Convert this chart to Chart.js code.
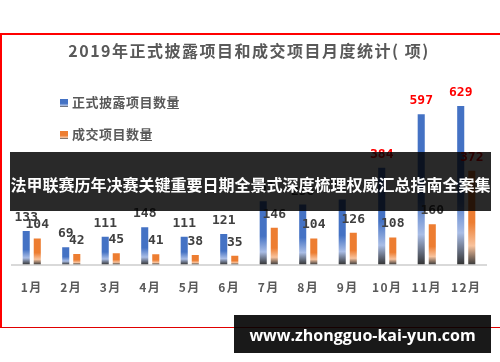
<!DOCTYPE html>
<html>
<head>
<meta charset="utf-8">
<script src="https://cdn.jsdelivr.net/npm/chart.js@4.4.1/dist/chart.umd.min.js"></script>
<style>
  body { margin: 0; background: #fff; overflow: hidden; }
  #wrap { position: relative; width: 500px; height: 362px; overflow: hidden; }
  #marco { position: absolute; left: 0; top: 33px; width: 540px; height: 292px;
           border-top: 2px solid #ff0000; border-left: 2px solid #ff0000; border-bottom: 1px solid #e00000; }
  #grafico { position: absolute; left: 0; top: 0; }
  #leyenda { position: absolute; left: 60px; top: 92px; font: bold 13px "Noto Sans CJK SC"; color: #595959; letter-spacing: 0.5px; }
  #leyenda div { height: 32px; line-height: 20px; white-space: nowrap; }
  #leyenda span { display: inline-block; width: 8px; height: 8px; margin-right: 4px; vertical-align: 0px; }
  #banda { position: absolute; left: 10px; top: 152px; width: 481px; height: 59px; background: rgba(0,0,0,0.84);
           color: #fff; font: bold 16px "Noto Sans CJK SC"; line-height: 65px; text-align: center; white-space: nowrap; }
  #marca { position: absolute; left: 234px; top: 315px; width: 257px; height: 38px; background: rgba(0,0,0,0.9);
           color: #fff; font: bold 16px "Open Sans"; line-height: 40px; text-align: center; white-space: nowrap; }
</style>
</head>
<body>
<div id="wrap">
  <div id="marco"></div>
  <canvas id="grafico" width="500" height="362"></canvas>
  <div id="leyenda"></div>
  <div id="banda">法甲联赛历年决赛关键重要日期全景式深度梳理权威汇总指南全案集</div>
  <div id="marca">www.zhongguo-kai-yun.com</div>
</div>
<script>
// Datos del gráfico
var meses = ["1月", "2月", "3月", "4月", "5月", "6月", "7月", "8月", "9月", "10月", "11月", "12月"];
var divulgados = [133, 69, 111, 148, 111, 121, 251, 238, 258, 384, 597, 629];
var cerrados = [104, 42, 45, 41, 38, 35, 146, 104, 126, 108, 160, 372];

// Degradado por barra (color arriba, claro, oscuro en la base)
function degradado(context, color, claro, oscuro) {
    var chart = context.chart;
    if (!chart.chartArea || context.type !== 'data') return color;
    var y = chart.scales.y;
    var arriba = y.getPixelForValue(context.raw);
    var base = y.getPixelForValue(0);
    if (!isFinite(arriba) || base - arriba < 1) return color;
    var g = chart.ctx.createLinearGradient(0, arriba, 0, base);
    g.addColorStop(0, color);
    g.addColorStop(0.55, color);
    g.addColorStop(0.8, claro);
    g.addColorStop(1, oscuro);
    return g;
}

// Etiquetas encima de las barras
var etiquetas = {
    id: 'etiquetas',
    afterDatasetsDraw: function (chart) {
        var ctx = chart.ctx;
        ctx.save();
        ctx.font = 'bold 13px "DejaVu Sans Mono"';
        ctx.textAlign = 'center';
        ctx.textBaseline = 'alphabetic';
        chart.data.datasets.forEach(function (ds, i) {
            chart.getDatasetMeta(i).data.forEach(function (barra, j) {
                var v = ds.data[j];
                ctx.fillStyle = v > 300 ? '#ff0000' : '#404040';
                ctx.fillText(v, barra.x, barra.y - 10);
            });
        });
        ctx.restore();
    }
};

// Espaciado de letras para título y ejes
var espaciado = {
    id: 'espaciado',
    beforeDraw: function (chart) { chart.ctx.letterSpacing = '1.5px'; },
    beforeDatasetsDraw: function (chart) { chart.ctx.letterSpacing = '0px'; }
};

// Leyenda HTML
var leyendaHtml = {
    id: 'leyendaHtml',
    afterUpdate: function (chart) {
        var caja = document.getElementById('leyenda');
        caja.innerHTML = '';
        chart.data.datasets.forEach(function (ds) {
            var fila = document.createElement('div');
            var cuadro = document.createElement('span');
            cuadro.style.background = 'linear-gradient(' + ds.colorLeyenda + ' 55%, ' + ds.claroLeyenda + ' 80%, #555)';
            fila.appendChild(cuadro);
            fila.appendChild(document.createTextNode(ds.label));
            caja.appendChild(fila);
        });
    }
};

var ctx = document.getElementById("grafico").getContext('2d');
var grafico = new Chart(ctx, {
    type: 'bar',
    data: {
        labels: meses,
        datasets: [{
            label: '正式披露项目数量',
            data: divulgados,
            colorLeyenda: '#4472c4',
            claroLeyenda: '#a9bde6',
            backgroundColor: function (c) { return degradado(c, '#4472c4', '#a9bde6', '#333333'); },
            barPercentage: 0.64,
            categoryPercentage: 0.56
        }, {
            label: '成交项目数量',
            data: cerrados,
            colorLeyenda: '#ed7d31',
            claroLeyenda: '#f8c29c',
            backgroundColor: function (c) { return degradado(c, '#ed7d31', '#f8c29c', '#3a3a3a'); },
            barPercentage: 0.64,
            categoryPercentage: 0.56
        }]
    },
    options: {
        responsive: false,
        animation: false,
        layout: { padding: { left: 12, right: 14, top: 0, bottom: 51 } },
        plugins: {
            legend: { display: false },
            tooltip: { enabled: false },
            title: {
                display: true,
                text: '2019年正式披露项目和成交项目月度统计( 项)',
                color: '#595959',
                font: { family: '"Noto Sans CJK SC"', size: 16, weight: 'bold' },
                padding: { top: 41, bottom: 28 }
            }
        },
        scales: {
            x: {
                grid: { display: false, drawTicks: false },
                border: { display: true, color: '#d9d9d9', width: 2 },
                ticks: {
                    color: '#595959',
                    padding: 16,
                    font: { family: '"Noto Sans CJK SC"', size: 12, weight: 'bold' }
                }
            },
            y: {
                display: false,
                min: 0,
                max: 700
            }
        }
    },
    plugins: [etiquetas, espaciado, leyendaHtml]
});
</script>
</body>
</html>
